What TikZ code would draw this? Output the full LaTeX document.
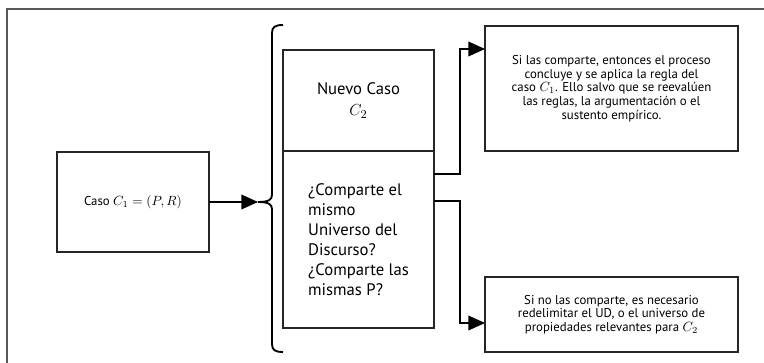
\documentclass[tikz,border=0pt]{standalone}
\usepackage{fontspec}
\setmainfont{PT Sans}
\usetikzlibrary{arrows.meta,calc}

\tikzset{
  caja/.style={draw=black!85,line width=0.8pt,inner sep=0pt,outer sep=0pt},
  flecha/.style={line width=1.2pt,-{Triangle[length=12.5pt,width=11pt]}},
  chico/.style={font=\fontsize{9.6}{10.3}\selectfont,align=center},
  grande/.style={font=\fontsize{12.5}{15}\selectfont},
}

\begin{document}
\begin{tikzpicture}[x=0.75pt,y=-0.75pt]
\useasboundingbox (0,0) rectangle (764,363);
% marco
\draw[black!65,line width=1.1pt] (7,363) -- (7,9) -- (764,9);

% caso inicial
\node[caja,minimum width=114pt,minimum height=75pt,chico] (caso) at (133,202) {Caso $C_1 = (P, R)$};

% llave
\coordinate (tip) at (258,202);
\draw[line width=1.4pt] (283,25) .. controls (275,25) and (272,27) .. (272,33) -- (272,195)
  .. controls (272,200) and (268,202) .. (tip)
  .. controls (268,202) and (272,204) .. (272,209) -- (272,344)
  .. controls (272,350) and (275,352) .. (283,352);
\draw[flecha] (caso) -- (tip);

% nuevo caso y pregunta
\node[caja,minimum width=113.25pt,minimum height=75.75pt,grande,align=center] (nuevo) at (358.5,100.5) {Nuevo Caso\\[1pt]$C_2$};
\node[caja,minimum width=113.25pt,minimum height=132.75pt,grande,align=left] (pregunta) at (358.5,239.5)
  {¿Comparte el\\mismo\\Universo del\\Discurso?\\¿Comparte las\\mismas P?};

% resultados
\node[caja,minimum width=189.75pt,minimum height=93.75pt,chico] (sicomp) at (611.5,88.5)
  {Si las comparte, entonces el proceso\\concluye y se aplica la regla del\\caso $C_1$. Ello salvo que se reevalúen\\las reglas, la argumentación o el\\sustento empírico.};
\node[caja,minimum width=189.75pt,minimum height=56.25pt,chico] (nocomp) at (611.5,314.5)
  {Si no las comparte, es necesario\\redelimitar el UD, o el universo de\\propiedades relevantes para $C_2$};

\draw[flecha] ($(pregunta.north east)+(0,23)$) -- ++(26,0) |- ($(sicomp.north west)+(0,23)$);
\draw[flecha] ($(pregunta.north east)+(0,50)$) -- ++(26,0) |- ($(nocomp.west)+(0,8.5)$);

\end{tikzpicture}
\end{document}
